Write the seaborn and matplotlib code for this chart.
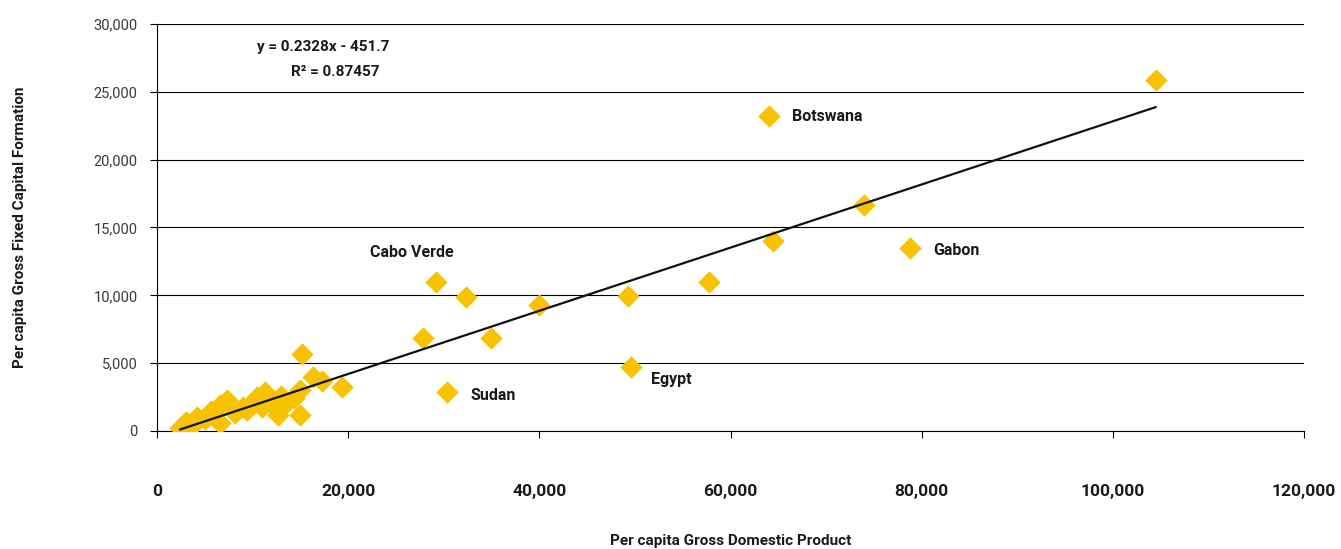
import matplotlib
matplotlib.use("Agg")
import matplotlib.pyplot as plt
import seaborn as sns
import pandas as pd
import numpy as np

# ---- data ----
gdp_pc = [104500, 64000, 74000, 78800, 64400, 57800, 49300, 40000, 29200, 32300,
          27800, 34900, 49600, 30300,
          15200, 16300, 17300, 19400, 15000, 13600, 15000, 12700, 11300, 10000,
          9400, 7300, 6600, 6600, 4200, 3500, 2400, 2800, 5000, 8200, 11000,
          14300, 4000, 6000, 9000, 12000, 3000, 5600, 13000, 10500]
gfcf_pc = [25870, 23200, 16650, 13500, 14000, 11000, 9950, 9300, 10950, 9900,
           6850, 6850, 4750, 2900,
           5700, 3980, 3690, 3240, 3020, 2140, 1180, 1180, 2870, 2140,
           1550, 2280, 1920, 590, 1030, 440, 220, 500, 900, 1300, 1800,
           2400, 600, 1200, 1800, 2000, 700, 1500, 2600, 2500]

label_names = ["Botswana", "Gabon", "Cabo Verde", "Egypt", "Sudan"]
label_x = [66400, 81200, 22300, 51700, 32800]
label_y = [23150, 13300, 13150, 3800, 2600]

trend_slope = [0.2328]
trend_intercept = [-451.7]
equation_lines = ["y = 0.2328x - 451.7", "R\u00b2 = 0.87457"]
equation_x = [17400, 18700]
equation_y = [28300, 26450]

x_ticks = [0, 20000, 40000, 60000, 80000, 100000, 120000]
y_ticks = [0, 5000, 10000, 15000, 20000, 25000, 30000]

# ---- plotting ----
sns.set_theme(style="white")
plt.rcParams['font.family'] = ['Roboto', 'DejaVu Sans']

fig = plt.figure(figsize=(13.41, 5.49), dpi=100)
ax = fig.add_axes([157/1341, 1-431/549, (1304-157)/1341, (431-24)/549])

df = pd.DataFrame({"gdp": gdp_pc, "gfcf": gfcf_pc})
sns.scatterplot(data=df, x="gdp", y="gfcf", marker="D", s=130, color="#F7C300",
                linewidth=0, ax=ax, zorder=3)

xmin, xmax = min(gdp_pc), max(gdp_pc)
trend = pd.DataFrame({"x": [xmin, xmax]})
trend["y"] = trend_slope[0] * trend["x"] + trend_intercept[0]
sns.lineplot(data=trend, x="x", y="y", color="#111111", linewidth=1.6, ax=ax, zorder=4)

for name, lx, ly in zip(label_names, label_x, label_y):
    ax.text(lx, ly, name, fontsize=11.5, fontweight="bold", color="#1a1a1a",
            va="center", ha="left", zorder=5)

for line, ex, ey in zip(equation_lines, equation_x, equation_y):
    ax.text(ex, ey, line, fontsize=11, fontweight="bold", color="#1a1a1a",
            ha="center", va="center")

ax.set_xlim(0, 120000)
ax.set_ylim(0, 30000)
ax.set_xticks(x_ticks)
ax.set_yticks(y_ticks)
ax.set_xticklabels([f"{v:,}" for v in x_ticks], fontsize=12.5, fontweight="bold", color="#1a1a1a")
ax.set_yticklabels([f"{v:,}" for v in y_ticks], fontsize=10.5, fontweight="normal", color="#3a3a3a")

ax.yaxis.grid(True, color="black", linewidth=0.8)
ax.xaxis.grid(False)
ax.set_axisbelow(True)
for side in ["top", "right"]:
    ax.spines[side].set_visible(False)
ax.spines["left"].set_color("black")
ax.spines["left"].set_linewidth(0.8)
ax.spines["bottom"].set_color("black")
ax.spines["bottom"].set_linewidth(0.8)

ax.tick_params(axis="y", which="both", left=True, length=5, width=0.8, color="black", pad=9)
ax.tick_params(axis="x", which="both", bottom=True, length=5, width=0.8, color="black", pad=33)

ax.set_xlabel("Per capita Gross Domestic Product", fontsize=11, fontweight="bold",
              color="#1a1a1a", labelpad=25)
ax.set_ylabel("Per capita Gross Fixed Capital Formation", fontsize=11, fontweight="bold",
              color="#1a1a1a", labelpad=48)

fig.savefig("out.png", dpi=100)
